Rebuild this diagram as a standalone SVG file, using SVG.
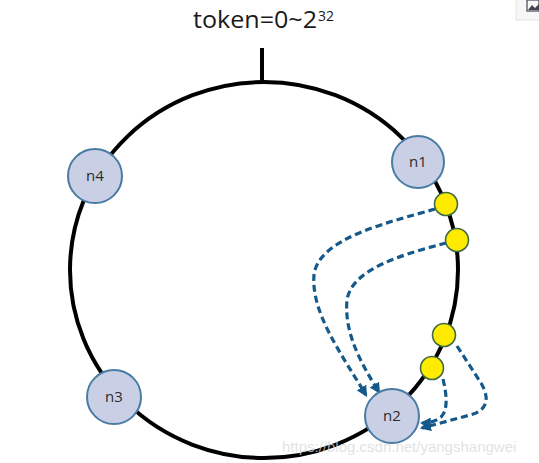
<svg xmlns="http://www.w3.org/2000/svg" width="539" height="463" viewBox="0 0 539 463">
<style>
.node{fill:#c9d0e5;stroke:#4a7ba3;stroke-width:2}
.lbl{font-family:"Open Sans","Liberation Sans",sans-serif;font-size:15px;fill:#2b2b2b;text-anchor:middle}
.tok{fill:#ffeb00;stroke:#3f6b45;stroke-width:1.6}
.ring{fill:none;stroke:#000;stroke-width:4}
.dash{fill:none;stroke:#15598a;stroke-width:3.2;stroke-dasharray:7 4}
</style>
<defs>
<marker id="ah" viewBox="0 0 10 10" refX="8" refY="5" markerWidth="11" markerHeight="11" markerUnits="userSpaceOnUse" orient="auto">
<path d="M0,0 L10,5 L0,10 z" fill="#15598a"/>
</marker>
</defs>
<rect width="539" height="463" fill="#ffffff"/>
<g id="corner">
<rect x="516" y="-2" width="25" height="22" fill="#f7f7f7" stroke="#e3e3e3"/>
<rect x="527" y="0" width="12" height="11" fill="none" stroke="#445" stroke-width="1.2"/>
<path d="M528,10 L532,5 L535,8 L539,4 L539,10 z" fill="#445"/>
</g>
<g id="title">
<text x="193" y="28" font-family="Open Sans,Liberation Sans,sans-serif" font-size="24" fill="#1a1a1a" textLength="124" lengthAdjust="spacingAndGlyphs">token=0~2</text>
<text x="318" y="21" font-family="Open Sans,Liberation Sans,sans-serif" font-size="14" fill="#1a1a1a">32</text>
</g>
<g id="ring">
<line x1="262" y1="48" x2="262" y2="84" stroke="#000" stroke-width="4"/>
<ellipse class="ring" cx="264" cy="270" rx="194" ry="188"/>
</g>
<g id="connectors">
<path class="dash" marker-end="url(#ah)" d="M435 209 C390 222, 318 238, 314 275 C311 312, 340 352, 366 395"/>
<path class="dash" marker-end="url(#ah)" d="M446 243 C405 254, 352 268, 347 300 C344 332, 360 362, 379 392"/>
<path class="dash" marker-end="url(#ah)" d="M457 346 L481 383 C491 400, 486 411, 470 415 L422 428"/>
<path class="dash" marker-end="url(#ah)" d="M443 379 C447 396, 448 410, 441 417 C436 421, 431 423, 422 423"/>
</g>
<g id="t1"><circle class="tok" cx="446" cy="204" r="11.5"/></g>
<g id="t2"><circle class="tok" cx="457" cy="240" r="11.5"/></g>
<g id="t3"><circle class="tok" cx="444" cy="335" r="11.5"/></g>
<g id="t4"><circle class="tok" cx="432" cy="368" r="11.5"/></g>
<g id="n1"><circle class="node" cx="418" cy="162" r="26"/><text class="lbl" x="418" y="167">n1</text></g>
<g id="n4"><circle class="node" cx="95" cy="176" r="27"/><text class="lbl" x="95" y="181">n4</text></g>
<g id="n3"><circle class="node" cx="114" cy="397" r="27"/><text class="lbl" x="114" y="402">n3</text></g>
<g id="n2"><circle class="node" cx="392" cy="416" r="27"/><text class="lbl" x="392" y="421">n2</text></g>
<g id="watermark">
<text x="282" y="452" font-family="Liberation Sans,sans-serif" font-size="15" fill="#d8d8d8" fill-opacity="0.75">https://blog.csdn.net/yangshangwei</text>
</g>
</svg>
